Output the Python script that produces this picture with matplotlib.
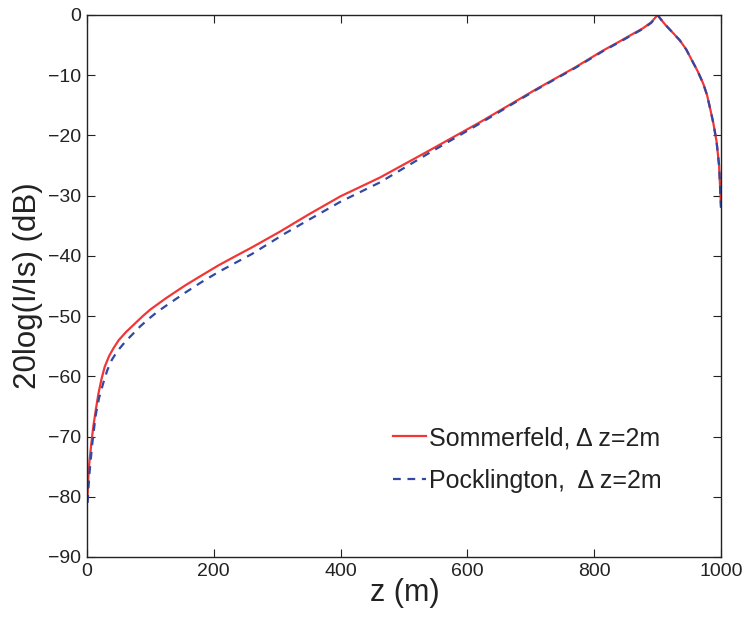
#!/usr/bin/env python3
"""Current distribution along the wire: Sommerfeld vs Pocklington solution.

Output:
    out.png
"""

import matplotlib

matplotlib.use("Agg")
import matplotlib.pyplot as plt

# values
z_sommerfeld = [1, 2, 4, 7, 10, 14, 18, 23, 28, 35, 42, 50, 62, 75, 88, 100,
                125, 155, 180, 207, 235, 260, 304, 350, 400, 462, 540, 620,
                709, 770, 814, 840, 860, 877, 890, 900, 905, 912, 920, 935,
                945, 954, 963, 972, 978, 983, 988, 993, 997, 1000]
db_sommerfeld = [-79.5, -77.0, -74.0, -71.0, -68.3, -65.5, -62.9, -60.4, -58.4,
                 -56.6, -55.3, -54.0, -52.6, -51.3, -50.0, -48.9, -47.0, -44.9,
                 -43.3, -41.6, -40.0, -38.6, -36.0, -33.1, -30.1, -27.0, -22.5,
                 -17.8, -12.3, -8.7, -5.9, -4.4, -3.2, -2.2, -1.2, 0.0, -0.7,
                 -1.6, -2.5, -4.2, -5.7, -7.5, -9.3, -11.4, -13.3, -15.6, -18.0,
                 -21.0, -25.0, -31.8]

z_pocklington = [1, 2, 4, 8, 11, 14, 19, 26, 32, 39, 48, 60, 72, 84, 98, 112,
                 130, 155, 180, 207, 235, 260, 312, 350, 400, 462, 540, 620,
                 709, 770, 814, 840, 860, 877, 890, 900, 905, 912, 920, 935,
                 945, 954, 963, 972, 978, 983, 988, 993, 997, 1000]
db_pocklington = [-81.0, -79.0, -76.0, -71.5, -68.8, -66.3, -63.6, -61.0,
                  -59.0, -57.3, -55.8, -54.3, -53.0, -51.7, -50.4, -49.2, -47.9,
                  -46.1, -44.4, -42.7, -41.1, -39.7, -36.3, -34.0, -31.0, -27.8,
                  -22.9, -18.0, -12.4, -8.8, -6.0, -4.5, -3.3, -2.3, -1.3, 0.0,
                  -0.7, -1.6, -2.5, -4.2, -5.7, -7.5, -9.3, -11.4, -13.3, -15.6,
                  -18.0, -21.0, -25.0, -32.0]

labels = ["Sommerfeld, \u0394 z=2m", "Pocklington,  \u0394 z=2m"]
x_ticks = [0, 200, 400, 600, 800, 1000]
y_ticks = [0, -10, -20, -30, -40, -50, -60, -70, -80, -90]


def main() -> None:
    plt.rcParams["font.family"] = ["Liberation Sans", "DejaVu Sans"]
    plt.rcParams["axes.unicode_minus"] = True

    fig = plt.figure(figsize=(7.48, 6.19), dpi=100)
    ax = fig.add_axes([0.1163, 0.1002, 0.8476, 0.8756])

    ax.plot(z_sommerfeld, db_sommerfeld, color="#f23636", lw=1.6, label=labels[0])
    ax.plot(z_pocklington, db_pocklington, color="#3049a3", lw=1.6,
            ls=(0, (3.5, 3)), label=labels[1])

    ax.set_xlim(0, 1000)
    ax.set_ylim(-90, 0)
    ax.set_xticks(x_ticks)
    ax.set_yticks(y_ticks)
    ax.tick_params(direction="in", length=6, width=0.8, top=True, right=True,
                   labelsize=14, pad=4, colors="#222222")
    for spine in ax.spines.values():
        spine.set_linewidth(1.0)
        spine.set_color("#222222")

    ax.set_xlabel("z (m)", fontsize=22, color="#222222")
    ax.xaxis.set_label_coords(0.502, -0.038)
    ax.set_ylabel("20log(I/Is) (dB)", fontsize=22.5, color="#222222")
    ax.yaxis.set_label_coords(-0.069, 0.5)

    ax.legend(loc="lower left", bbox_to_anchor=(0.483, 0.118), frameon=False,
              fontsize=18, handlelength=1.3, handletextpad=0.15,
              labelspacing=0.76, borderpad=0, borderaxespad=0,
              labelcolor="#222222")

    fig.savefig("out.png", dpi=100)
    plt.close(fig)


if __name__ == "__main__":
    main()
